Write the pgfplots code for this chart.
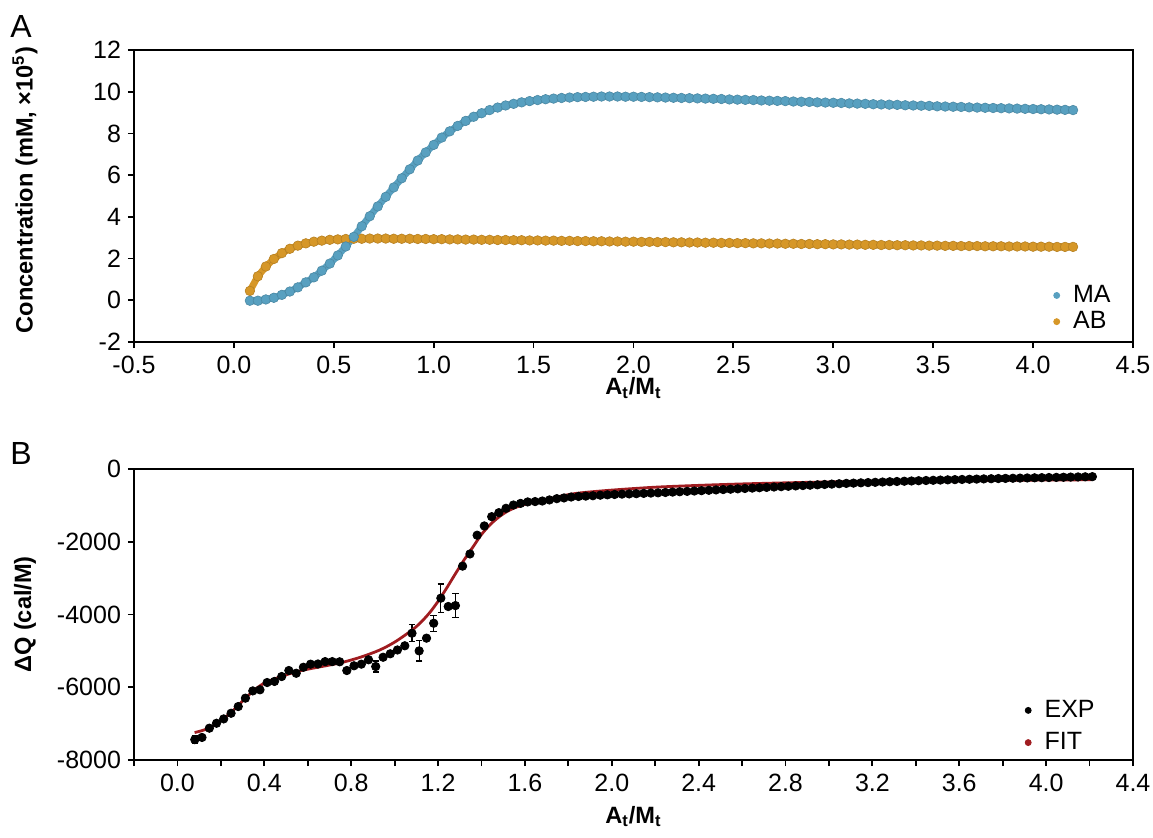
\documentclass[border=0pt]{standalone}
\usepackage{pgfplots}
\pgfplotsset{compat=1.18}
\usepackage{fontspec}
\setmainfont{Liberation Sans}
\definecolor{mablue}{RGB}{88,160,192}
\definecolor{aborange}{RGB}{214,151,40}
\definecolor{fitred}{RGB}{160,28,32}

\newcommand{\lab}{\fontsize{11.8}{14}\selectfont\bfseries}
\pgfplotsset{
  panel/.style={
    scale only axis, width=499.5pt, height=146pt,
    axis line style={line width=1pt, black},
    tick pos=left, tick align=outside,
    major tick length=3pt, minor tick length=3pt,
    every tick/.style={line width=0.9pt, black},
    tick label style={font=\fontsize{12.5}{14}\selectfont},
    x tick label style={inner sep=1pt}, xticklabel shift=3pt,
    /pgf/number format/assume math mode=true,
    x tick label style={/pgf/number format/.cd, fixed, fixed zerofill, precision=1},
    y tick label style={/pgf/number format/.cd, fixed, 1000 sep={}},
    every axis y label/.style={at={(axis description cs:-0.109,0.5)}, rotate=90, anchor=center,
      inner sep=0pt, font=\lab},
    every axis x label/.style={at={(axis description cs:0.5,0)}, anchor=base, inner sep=0pt, font=\lab},
    legend style={draw=none, fill=none, inner sep=0pt, font=\fontsize{12.5}{14}\selectfont,
      cells={anchor=west}},
  },
  dot/.style={legend image code/.code={\fill[#1] (0em,0em) circle (1.5pt); \path (0.6em,0em);}},
}

\begin{document}
\begin{tikzpicture}
\useasboundingbox (0,0) rectangle (576.5pt,418.5pt);

\node[anchor=north west, inner sep=0pt, font=\fontsize{16}{18}\selectfont] at (5pt,411pt) {A};
\node[anchor=north west, inner sep=0pt, font=\fontsize{16}{18}\selectfont] at (5pt,197.5pt) {B};

% panel A
\begin{axis}[panel, at={(67pt,247.5pt)}, anchor=south west,
  xmin=-0.5, xmax=4.5, ymin=-2, ymax=12,
  xtick={-0.5,0,0.5,1,1.5,2,2.5,3,3.5,4,4.5},
  ytick={-2,0,2,4,6,8,10,12},
  xlabel={A\textsubscript{t}/M\textsubscript{t}},
  x label style={yshift=-26.5pt},
  ylabel={Concentration (mM, ×10\textsuperscript{5})},
  y label style={at={(axis description cs:-0.109,0.52)}},
  legend style={at={(axis description cs:0.982,0.02)}, anchor=south east, row sep=-1pt},
]
\addplot[color=aborange, line width=3.4pt, mark=*, mark size=2.4pt,
  mark options={line width=0.3pt, fill=aborange, draw=aborange!85!black}, forget plot]
coordinates {
(0.08,0.45) (0.12,1.15) (0.16,1.62) (0.20,1.98) (0.24,2.26) (0.28,2.47) (0.32,2.62)
(0.36,2.73) (0.40,2.81) (0.44,2.86) (0.48,2.90) (0.52,2.92) (0.56,2.94) (0.60,2.95)
(0.64,2.95) (0.68,2.96) (0.72,2.96) (0.76,2.96) (0.80,2.95) (0.84,2.95) (0.88,2.95)
(0.92,2.94) (0.96,2.94) (1.00,2.93) (1.04,2.93) (1.08,2.92) (1.12,2.92) (1.16,2.91)
(1.20,2.91) (1.24,2.90) (1.28,2.90) (1.32,2.89) (1.36,2.89) (1.40,2.88) (1.44,2.88)
(1.48,2.87) (1.52,2.87) (1.56,2.86) (1.60,2.86) (1.64,2.85) (1.68,2.85) (1.72,2.84)
(1.76,2.84) (1.80,2.83) (1.84,2.83) (1.88,2.82) (1.92,2.82) (1.96,2.81) (2.00,2.81)
(2.04,2.80) (2.08,2.80) (2.12,2.79) (2.16,2.79) (2.20,2.78) (2.24,2.78) (2.28,2.77)
(2.32,2.77) (2.36,2.76) (2.40,2.76) (2.44,2.75) (2.48,2.75) (2.52,2.74) (2.56,2.74)
(2.60,2.73) (2.64,2.73) (2.68,2.72) (2.72,2.72) (2.76,2.71) (2.80,2.71) (2.84,2.70)
(2.88,2.70) (2.92,2.69) (2.96,2.69) (3.00,2.68) (3.04,2.68) (3.08,2.67) (3.12,2.67)
(3.16,2.66) (3.20,2.66) (3.24,2.65) (3.28,2.65) (3.32,2.64) (3.36,2.64) (3.40,2.63)
(3.44,2.63) (3.48,2.62) (3.52,2.62) (3.56,2.61) (3.60,2.61) (3.64,2.60) (3.68,2.60)
(3.72,2.60) (3.76,2.59) (3.80,2.59) (3.84,2.59) (3.88,2.58) (3.92,2.58) (3.96,2.58)
(4.00,2.57) (4.04,2.57) (4.08,2.57) (4.12,2.56) (4.16,2.56) (4.20,2.56)
};
\addplot[color=mablue, line width=3.4pt, mark=*, mark size=2.4pt,
  mark options={line width=0.3pt, fill=mablue, draw=mablue!85!black}, forget plot]
coordinates {
(0.08,-0.02) (0.12,-0.02) (0.16,0.04) (0.20,0.12) (0.24,0.26) (0.28,0.42) (0.32,0.62)
(0.36,0.86) (0.40,1.10) (0.44,1.42) (0.48,1.76) (0.52,2.15) (0.56,2.58) (0.60,3.04)
(0.64,3.55) (0.68,4.03) (0.72,4.50) (0.76,4.96) (0.80,5.41) (0.84,5.85) (0.88,6.28)
(0.92,6.70) (0.96,7.09) (1.00,7.45) (1.04,7.80) (1.08,8.10) (1.12,8.36) (1.16,8.60)
(1.20,8.80) (1.24,8.97) (1.28,9.12) (1.32,9.24) (1.36,9.34) (1.40,9.42) (1.44,9.49)
(1.48,9.55) (1.52,9.60) (1.56,9.64) (1.60,9.67) (1.64,9.70) (1.68,9.72) (1.72,9.74)
(1.76,9.75) (1.80,9.76) (1.84,9.77) (1.88,9.77) (1.92,9.77) (1.96,9.76) (2.00,9.76)
(2.04,9.75) (2.08,9.74) (2.12,9.73) (2.16,9.72) (2.20,9.71) (2.24,9.70) (2.28,9.69)
(2.32,9.68) (2.36,9.67) (2.40,9.66) (2.44,9.65) (2.48,9.63) (2.52,9.62) (2.56,9.61)
(2.60,9.60) (2.64,9.58) (2.68,9.57) (2.72,9.56) (2.76,9.55) (2.80,9.53) (2.84,9.52)
(2.88,9.51) (2.92,9.49) (2.96,9.48) (3.00,9.47) (3.04,9.46) (3.08,9.44) (3.12,9.43)
(3.16,9.42) (3.20,9.40) (3.24,9.39) (3.28,9.38) (3.32,9.37) (3.36,9.35) (3.40,9.34)
(3.44,9.33) (3.48,9.32) (3.52,9.30) (3.56,9.29) (3.60,9.28) (3.64,9.27) (3.68,9.25)
(3.72,9.24) (3.76,9.23) (3.80,9.22) (3.84,9.21) (3.88,9.20) (3.92,9.19) (3.96,9.18)
(4.00,9.17) (4.04,9.16) (4.08,9.15) (4.12,9.14) (4.16,9.13) (4.20,9.12)
};
\addlegendimage{dot=mablue}
\addlegendentry{MA}
\addlegendimage{dot=aborange}
\addlegendentry{AB}
\end{axis}

% panel B
\begin{axis}[panel, at={(67pt,38.5pt)}, anchor=south west,
  height=145.5pt,
  xmin=-0.2, xmax=4.4, ymin=-8000, ymax=0,
  xtick={0,0.4,0.8,1.2,1.6,2.0,2.4,2.8,3.2,3.6,4.0,4.4},
  minor xtick={-0.2,0.2,0.6,1.0,1.4,1.8,2.2,2.6,3.0,3.4,3.8,4.2},
  ytick={-8000,-6000,-4000,-2000,0},
  xlabel={A\textsubscript{t}/M\textsubscript{t}},
  x label style={yshift=-31.5pt},
  ylabel={ΔQ (cal/M)},
  legend style={at={(axis description cs:0.966,0.01)}, anchor=south east, row sep=2pt},
]
\addplot[only marks, mark=*, mark size=2.1pt, color=black, forget plot,
  error bars/.cd, y dir=both, y explicit,
  error bar style={line width=0.6pt, black},
  error mark options={rotate=90, mark size=1.6pt, line width=0.6pt, black}]
table[x index=0, y index=1, y error index=2] {
0.080 -7440 110
0.113 -7380 90
0.147 -7125 0
0.180 -6990 0
0.213 -6870 0
0.247 -6715 0
0.280 -6530 0
0.313 -6300 0
0.347 -6100 0
0.380 -6070 0
0.413 -5870 0
0.447 -5840 0
0.480 -5705 0
0.513 -5540 0
0.547 -5615 0
0.580 -5450 0
0.613 -5365 0
0.647 -5360 0
0.680 -5295 0
0.713 -5295 0
0.747 -5300 0
0.780 -5540 0
0.813 -5410 0
0.847 -5365 0
0.880 -5245 0
0.913 -5430 150
0.947 -5175 0
0.980 -5080 0
1.013 -4975 0
1.047 -4860 0
1.080 -4515 230
1.113 -5000 280
1.147 -4650 0
1.180 -4240 220
1.213 -3550 390
1.247 -3780 0
1.280 -3755 330
1.313 -2670 0
1.347 -2335 0
1.380 -1820 0
1.413 -1565 0
1.447 -1310 0
1.480 -1200 0
1.513 -1080 0
1.547 -990 0
1.580 -945 0
1.613 -905 0
1.647 -895 0
1.680 -880 0
1.713 -850 0
1.747 -815 0
1.780 -795 0
1.813 -770 0
1.847 -755 0
1.880 -745 0
1.913 -735 0
1.947 -720 0
1.980 -710 0
2.013 -700 0
2.047 -690 0
2.080 -685 0
2.113 -678 0
2.147 -670 0
2.180 -662 0
2.213 -655 0
2.247 -645 0
2.280 -635 0
2.313 -625 0
2.347 -615 0
2.380 -605 0
2.413 -595 0
2.447 -585 0
2.480 -575 0
2.513 -565 0
2.547 -555 0
2.580 -545 0
2.613 -535 0
2.647 -525 0
2.680 -515 0
2.713 -505 0
2.747 -495 0
2.780 -485 0
2.813 -475 0
2.847 -465 0
2.880 -455 0
2.913 -445 0
2.947 -435 0
2.980 -425 0
3.013 -415 0
3.047 -405 0
3.080 -395 0
3.113 -388 0
3.147 -380 0
3.180 -373 0
3.213 -366 0
3.247 -358 0
3.280 -350 0
3.313 -343 0
3.347 -336 0
3.380 -329 0
3.413 -322 0
3.447 -316 0
3.480 -310 0
3.513 -304 0
3.547 -298 0
3.580 -292 0
3.613 -287 0
3.647 -282 0
3.680 -277 0
3.713 -272 0
3.747 -267 0
3.780 -262 0
3.813 -258 0
3.847 -254 0
3.880 -250 0
3.913 -246 0
3.947 -242 0
3.980 -238 0
4.013 -234 0
4.047 -230 0
4.080 -226 0
4.113 -222 0
4.147 -218 0
4.180 -214 0
4.213 -210 0
};
\addplot[color=fitred, line width=1.4pt, smooth, tension=0.5, forget plot]
coordinates {
(0.079,-7245) (0.15,-7110) (0.24,-6730) (0.32,-6260) (0.39,-5920) (0.47,-5720)
(0.55,-5570) (0.62,-5480) (0.70,-5390) (0.77,-5300) (0.85,-5160) (0.93,-4980)
(1.00,-4760) (1.08,-4430) (1.12,-4220) (1.16,-3960) (1.20,-3640) (1.24,-3270)
(1.28,-2880) (1.32,-2500) (1.36,-2150) (1.40,-1800) (1.44,-1530) (1.48,-1320)
(1.52,-1160) (1.56,-1050) (1.60,-970) (1.65,-900) (1.70,-840) (1.77,-740)
(1.85,-660) (2.0,-580) (2.2,-500) (2.4,-450) (2.6,-410) (2.8,-380) (3.0,-355)
(3.2,-340) (3.4,-328) (3.6,-318) (3.8,-310) (4.0,-303) (4.21,-296)
};
\addlegendimage{dot=black}
\addlegendentry{EXP}
\addlegendimage{dot=fitred}
\addlegendentry{FIT}
\end{axis}
\end{tikzpicture}
\end{document}
